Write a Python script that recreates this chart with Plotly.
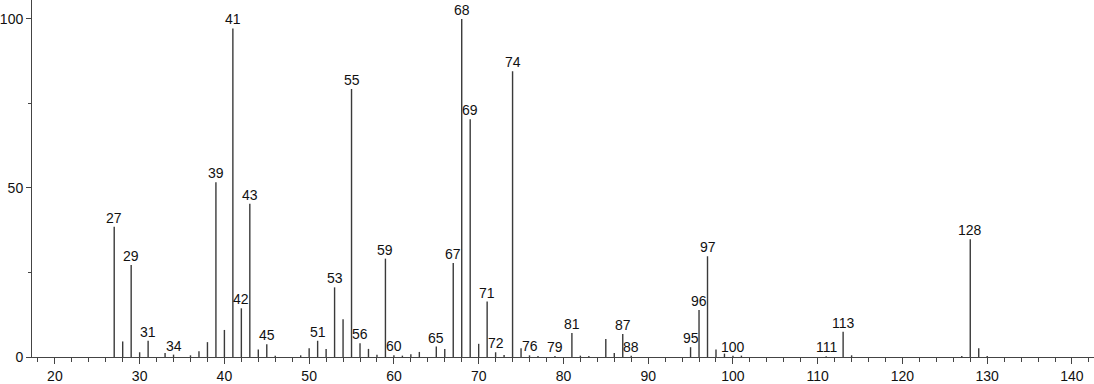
import plotly.graph_objects as go

mz = [27, 28, 29, 30, 31, 33, 34, 36, 37, 38, 39, 40, 41, 42, 43, 44, 45, 46,
      49, 50, 51, 52, 53, 54, 55, 56, 57, 58, 59, 60, 61, 62, 63, 65, 66, 67,
      68, 69, 70, 71, 72, 73, 74, 75, 76, 77, 79, 81, 82, 83, 85, 86, 87, 88,
      95, 96, 97, 98, 99, 100, 101, 111, 113, 114, 127, 128, 129, 130]
intensity = [38.5, 4.6, 27.2, 1.4, 4.8, 1.2, 0.7, 0.5, 1.7, 4.4, 51.7, 8.0, 97.2, 14.4, 45.3, 2.2, 3.8, 0.4,
             0.5, 2.6, 4.8, 2.4, 20.6, 11.2, 79.3, 4.1, 2.4, 0.7, 29.1, 0.5, 0.4, 0.8, 1.5, 3.1, 2.4, 27.8,
             100.0, 70.3, 3.9, 16.4, 1.4, 0.6, 84.5, 2.6, 0.5, 0.3, 0.3, 7.1, 0.4, 0.3, 5.3, 1.2, 6.8, 0.4,
             2.9, 13.9, 29.8, 2.2, 1.0, 0.4, 0.4, 0.2, 7.5, 0.5, 0.3, 34.8, 2.6, 0.3]
labeled = [27, 29, 31, 34, 39, 41, 42, 43, 45, 51, 53, 55, 56, 59, 60, 65, 67, 68, 69,
           71, 72, 74, 76, 79, 81, 87, 88, 95, 96, 97, 100, 111, 113, 128]

xs, ys = [], []
for m, h in zip(mz, intensity):
    xs += [m, m, None]
    ys += [0, h, None]

fig = go.Figure()
fig.add_trace(go.Scatter(x=xs, y=ys, mode="lines",
                         line=dict(color="#3a3a3a", width=1.4),
                         hoverinfo="skip", showlegend=False))

lookup = dict(zip(mz, intensity))
for m in labeled:
    fig.add_annotation(x=m, y=lookup[m], text=str(m), showarrow=False,
                       xanchor="center", yanchor="bottom", yshift=-1,
                       font=dict(family="Liberation Sans, Arial", size=14, color="#111"))

fig.update_layout(
    width=1094, height=384,
    margin=dict(l=30, r=0, t=0, b=25),
    paper_bgcolor="white", plot_bgcolor="white",
    font=dict(family="Liberation Sans, Arial", size=14, color="#111"),
    xaxis=dict(range=[17.3, 142.6], showgrid=False, zeroline=False,
               showline=True, linecolor="#444", linewidth=1,
               ticks="outside", ticklen=6, tickcolor="#444", tickwidth=1,
               tick0=0, dtick=10,
               minor=dict(ticks="outside", ticklen=4, dtick=2, tick0=0,
                          tickcolor="#444", showgrid=False),
               tickfont=dict(size=14)),
    yaxis=dict(range=[0, 105.6], showgrid=False, zeroline=False,
               showline=True, linecolor="#444", linewidth=1,
               ticks="outside", ticklen=5, tickcolor="#444",
               tickvals=[0, 50, 100],
               minor=dict(ticks="outside", ticklen=3, tickvals=[25, 75],
                          tickcolor="#444", showgrid=False),
               tickfont=dict(size=14)),
)

fig.write_html("out.html")
